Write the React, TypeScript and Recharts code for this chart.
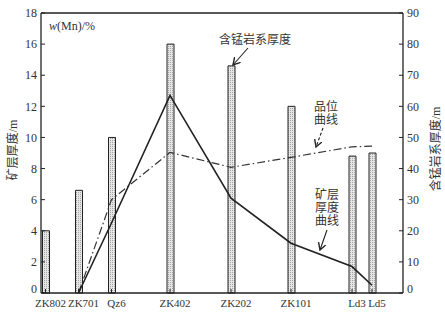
import React from 'react';
import { ComposedChart, Bar, Line, XAxis, YAxis, ReferenceLine } from 'recharts';

// boreholes along the section, with their position on the profile
const boreholes = ['ZK802', 'ZK701', 'Qz6', 'ZK402', 'ZK202', 'ZK101', 'Ld3', 'Ld5'];
const distance = [4.5, 37.5, 70.5, 129, 190, 250, 311, 331];

// 含锰岩系厚度 /m (right axis)
const seriesThickness = [20, 33, 50, 80, 73, 60, 44, 45];
// 矿层厚度 /m (left axis)
const oreThickness = [null, 0, 4.5, 12.7, 6.1, 3.2, 1.7, 0.5];
// w(Mn) /% (inner scale)
const grade = [null, 5, 12.5, 16.3, 15.1, 15.9, 16.75, 16.8];

const leftTicks = [0, 2, 4, 6, 8, 10, 12, 14, 16, 18];
const rightTicks = [0, 10, 20, 30, 40, 50, 60, 70, 80, 90];
const gradeTicks = [10, 15, 20, 25];

const rows = boreholes.map((name, i) => ({
  name,
  distance: distance[i],
  seriesThickness: seriesThickness[i],
  ore: oreThickness[i],
  grade: grade[i],
}));

const FONT = "'Liberation Serif', 'Noto Sans CJK SC', serif";
const INK = '#222';
const TXT = '#333';

// the zero labels sit a little above the bottom axis, as in the original
const lift = (v: number) => (v === 0 ? -4 : 0);

const LeftTick = (p: any) => (
  <g>
    <line x1={p.x} x2={p.x + 4} y1={p.y} y2={p.y} stroke={INK} />
    <text x={p.x - 4} y={p.y + lift(p.payload.value)} dy="0.35em" textAnchor="end" fontSize={12} fill={TXT} fontFamily={FONT}>
      {p.payload.value}
    </text>
  </g>
);

const RightTick = (p: any) => (
  <g>
    <line x1={p.x - 4} x2={p.x} y1={p.y} y2={p.y} stroke={INK} />
    <text x={p.x + 4} y={p.y + lift(p.payload.value)} dy="0.35em" textAnchor="start" fontSize={12} fill={TXT} fontFamily={FONT}>
      {p.payload.value}
    </text>
  </g>
);

const GradeTick = (p: any) => (
  <g>
    <line x1={p.x + 1} x2={p.x + 6} y1={p.y} y2={p.y} stroke={INK} />
    <text x={p.x + 7} y={p.y} dy="0.35em" textAnchor="start" fontSize={12} fill={TXT} fontFamily={FONT}>
      {p.payload.value}
    </text>
  </g>
);

const BottomTick = (p: any) => {
  const idx = distance.indexOf(p.payload.value);
  return (
    <g>
      <line x1={p.x} x2={p.x} y1={p.y} y2={p.y - 4} stroke={INK} />
      <text x={p.x + 5} y={p.y + 14} textAnchor="middle" fontSize={11} fill={TXT} fontFamily={FONT}>
        {boreholes[idx]}
      </text>
    </g>
  );
};

export default function App() {
  return (
    <div style={{ width: 445, height: 327, background: '#fff' }}>
      <style>{'body{margin:0}'}</style>
      <ComposedChart
        width={445}
        height={327}
        data={rows}
        margin={{ top: 13, right: 0, bottom: 0, left: 0 }}
        style={{ fontFamily: FONT }}
      >
        <defs>
          <pattern id="stipple" width="2" height="2" patternUnits="userSpaceOnUse">
            <rect width="2" height="2" fill="#e6e6e6" />
            <rect width="1" height="1" fill="#a2a2a2" />
          </pattern>
          <marker id="arr" markerWidth="9" markerHeight="9" refX="7" refY="4" orient="auto" markerUnits="userSpaceOnUse">
            <path d="M0,0 L7,4 L0,8" fill="none" stroke={INK} strokeWidth={1.4} />
          </marker>
        </defs>

        <XAxis
          type="number"
          dataKey="distance"
          domain={[0, 362]}
          ticks={distance}
          interval={0}
          height={34}
          tickSize={0}
          tickMargin={0}
          tickLine={false}
          tick={<BottomTick />}
          axisLine={{ stroke: INK, strokeWidth: 1.3 }}
        />
        <YAxis
          yAxisId="left"
          orientation="left"
          width={41}
          domain={[0, 18]}
          ticks={leftTicks}
          interval={0}
          tickSize={0}
          tickMargin={0}
          tickLine={false}
          tick={<LeftTick />}
          axisLine={{ stroke: INK, strokeWidth: 1.3 }}
        />
        <YAxis
          yAxisId="w"
          orientation="left"
          mirror
          width={0}
          domain={[5, 27.5]}
          ticks={gradeTicks}
          interval={0}
          tickSize={0}
          tickMargin={0}
          tickLine={false}
          axisLine={false}
          tick={<GradeTick />}
        />
        <YAxis
          yAxisId="right"
          orientation="right"
          width={42}
          domain={[0, 90]}
          ticks={rightTicks}
          interval={0}
          tickSize={0}
          tickMargin={0}
          tickLine={false}
          tick={<RightTick />}
          axisLine={{ stroke: INK, strokeWidth: 1.3 }}
        />
        <ReferenceLine yAxisId="left" y={18} stroke={INK} strokeWidth={1.3} />

        <Bar
          yAxisId="right"
          dataKey="seriesThickness"
          barSize={7}
          fill="url(#stipple)"
          stroke={INK}
          strokeWidth={1}
          isAnimationActive={false}
        />
        <Line
          yAxisId="w"
          dataKey="grade"
          type="linear"
          stroke={TXT}
          strokeWidth={1.2}
          strokeDasharray="8 3 1.5 3"
          dot={false}
          isAnimationActive={false}
        />
        <Line
          yAxisId="left"
          dataKey="ore"
          type="linear"
          stroke={INK}
          strokeWidth={1.6}
          dot={false}
          isAnimationActive={false}
        />

        {/* axis titles and notes */}
        <text x={13} y={150} transform="rotate(-90 13 150)" textAnchor="middle" dominantBaseline="central" fontSize={12} fill={TXT} fontFamily={FONT}>
          矿层厚度/m
        </text>
        <text x={436} y={149} transform="rotate(-90 436 149)" textAnchor="middle" dominantBaseline="central" fontSize={12} fill={TXT} fontFamily={FONT}>
          含锰岩系厚度/m
        </text>
        <text x={49} y={30} fontSize={12} fill={TXT} fontFamily={FONT}>
          <tspan fontStyle="italic">w</tspan>(Mn)/%
        </text>

        <text x={255} y={44} textAnchor="middle" fontSize={12} fill={TXT} fontFamily={FONT}>含锰岩系厚度</text>
        <line x1={248} y1={48} x2={233} y2={65} stroke={INK} strokeWidth={1.1} markerEnd="url(#arr)" />

        <text x={326} y={111} textAnchor="middle" fontSize={12} fill={TXT} fontFamily={FONT}>品位</text>
        <text x={326} y={124} textAnchor="middle" fontSize={12} fill={TXT} fontFamily={FONT}>曲线</text>
        <line x1={323} y1={128} x2={316} y2={147} stroke={INK} strokeWidth={1.1} strokeDasharray="3 2" markerEnd="url(#arr)" />

        <text x={327} y={199} textAnchor="middle" fontSize={12} fill={TXT} fontFamily={FONT}>矿层</text>
        <text x={327} y={212} textAnchor="middle" fontSize={12} fill={TXT} fontFamily={FONT}>厚度</text>
        <text x={327} y={225} textAnchor="middle" fontSize={12} fill={TXT} fontFamily={FONT}>曲线</text>
        <line x1={327} y1={230} x2={320} y2={250} stroke={INK} strokeWidth={1.1} markerEnd="url(#arr)" />
      </ComposedChart>
    </div>
  );
}
